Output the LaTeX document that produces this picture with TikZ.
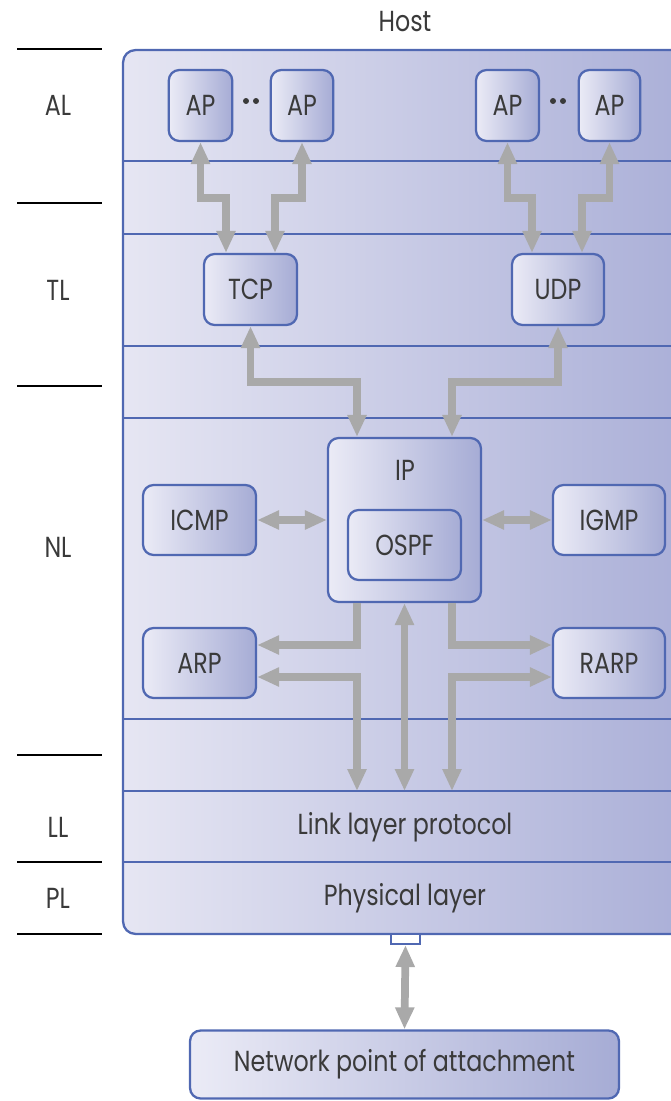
\documentclass[tikz,border=0pt]{standalone}
\usepackage{fontspec}
\setmainfont{Poppins}[FakeStretch=0.82]
\usetikzlibrary{arrows.meta}

\definecolor{hostleft}{HTML}{E6E6F3}
\definecolor{hostright}{HTML}{A9AED7}
\definecolor{boxleft}{HTML}{EBEBF6}
\definecolor{boxright}{HTML}{A6ACD5}
\definecolor{edgeblue}{HTML}{5068B2}
\definecolor{arrowgray}{HTML}{A9A9A9}
\definecolor{inkgray}{HTML}{3A3A3A}

\newcommand\diafont{\fontsize{16.5}{19}\selectfont}

\tikzset{
	box/.style={draw=edgeblue, line width=1.3pt, rounded corners=6pt, left color=boxleft, right color=boxright, inner sep=0pt},
	conn/.style={draw=arrowgray, line width=4.4pt, -{Triangle[length=0.44cm,width=0.36cm]}},
	dbl/.style={conn, {Triangle[length=0.44cm,width=0.36cm]}-{Triangle[length=0.44cm,width=0.36cm]}},
	layer/.style={draw=edgeblue, line width=0.9pt},
	tick/.style={draw=black, line width=0.8pt},
}

\begin{document}
\begin{tikzpicture}[x=0.02cm,y=-0.02cm,font=\diafont,text=inkgray]
	\useasboundingbox (0,0) rectangle (671,1101);
	\clip (0,0) rectangle (671,1101);
	% host frame and its layers
	\node[draw=edgeblue, line width=1.3pt, rounded corners=7pt, left color=hostleft, right color=hostright, minimum width=11.54cm, minimum height=17.68cm] (host) at (411.5,492) {};
	\node (hostlabel) at (405,22) {Host};
	\foreach \y in {161,234,346,418,719,791,862} {
		\draw[layer] (123,\y) -- (700,\y);
	}
	\foreach \y in {49,203,386,755,862,934} {
		\draw[tick] (17,\y) -- (102,\y);
	}
	\node (al) at (58,105) {AL};
	\node (tl) at (58,290) {TL};
	\node (nl) at (58,547) {NL};
	\node (lll) at (58,827) {LL};
	\node (pll) at (58,898) {PL};
	\node (linklayer) at (405,827) {Link layer protocol};
	\node (physlayer) at (405,898) {Physical layer};
	\coordinate (lltop) at (405,791);

	% application processes
	\node[box, minimum width=1.27cm, minimum height=1.42cm] (ap1) at (200.5,105.5) {AP};
	\node[box, minimum width=1.25cm, minimum height=1.42cm] (ap2) at (302,105.5) {AP};
	\node[box, minimum width=1.26cm, minimum height=1.42cm] (ap3) at (507.5,105.5) {AP};
	\node[box, minimum width=1.23cm, minimum height=1.42cm] (ap4) at (609.5,105.5) {AP};
	\foreach \x in {246,256,553,563} {
		\fill[inkgray] (\x,101) circle[radius=1.7pt];
	}

	% transport and network protocols
	\node[box, minimum width=1.86cm, minimum height=1.42cm] (tcp) at (250.5,289.5) {TCP};
	\node[box, minimum width=1.84cm, minimum height=1.42cm] (udp) at (558,289.5) {UDP};
	\node[box, minimum width=3.06cm, minimum height=3.28cm] (ip) at (404.5,520) {};
	\node (iplabel) at (405,470) {IP};
	\node[box, minimum width=2.26cm, minimum height=1.40cm] (ospf) at (404.5,545) {OSPF};
	\node[box, minimum width=2.26cm, minimum height=1.40cm] (icmp) at (199.5,520) {ICMP};
	\node[box, minimum width=2.24cm, minimum height=1.40cm] (igmp) at (609,520) {IGMP};
	\node[box, minimum width=2.26cm, minimum height=1.40cm] (arp) at (199.5,663) {ARP};
	\node[box, minimum width=2.24cm, minimum height=1.40cm] (rarp) at (609,663) {RARP};

	% attachment
	\node[draw=edgeblue, line width=1.2pt, fill=white, minimum width=0.58cm, minimum height=0.2cm, inner sep=0pt] (port) at (405.5,939) {};
	\node[box, minimum width=8.58cm, minimum height=1.36cm] (attach) at (404.5,1064.5) {Network point of attachment};

	% flows
	\draw[dbl] (ap1.south) -- (ap1.south |- 0,198) -| (226,0 |- tcp.north);
	\draw[dbl] (ap2.south) -- (ap2.south |- 0,198) -| (275,0 |- tcp.north);
	\draw[dbl] (ap3.south) -- (ap3.south |- 0,198) -| (532,0 |- udp.north);
	\draw[dbl] (ap4.south) -- (ap4.south |- 0,198) -| (582,0 |- udp.north);
	\draw[dbl] (tcp.south) -- (tcp.south |- 0,382) -| (357,0 |- ip.north);
	\draw[dbl] (udp.south) -- (udp.south |- 0,382) -| (452,0 |- ip.north);
	\draw[dbl] (icmp) -- (ip);
	\draw[dbl] (ip) -- (igmp);
	\draw[conn] (357,0 |- ip.south) |- (arp.east |- 0,645);
	\draw[conn] (452,0 |- ip.south) |- (rarp.west |- 0,645);
	\draw[dbl] (arp.east |- 0,677) -| (357,0 |- lltop);
	\draw[dbl] (rarp.west |- 0,677) -| (452,0 |- lltop);
	\draw[dbl] (ip.south) -- (ip.south |- lltop);
	\draw[dbl] (port.south) -- (attach.north);
\end{tikzpicture}
\end{document}
